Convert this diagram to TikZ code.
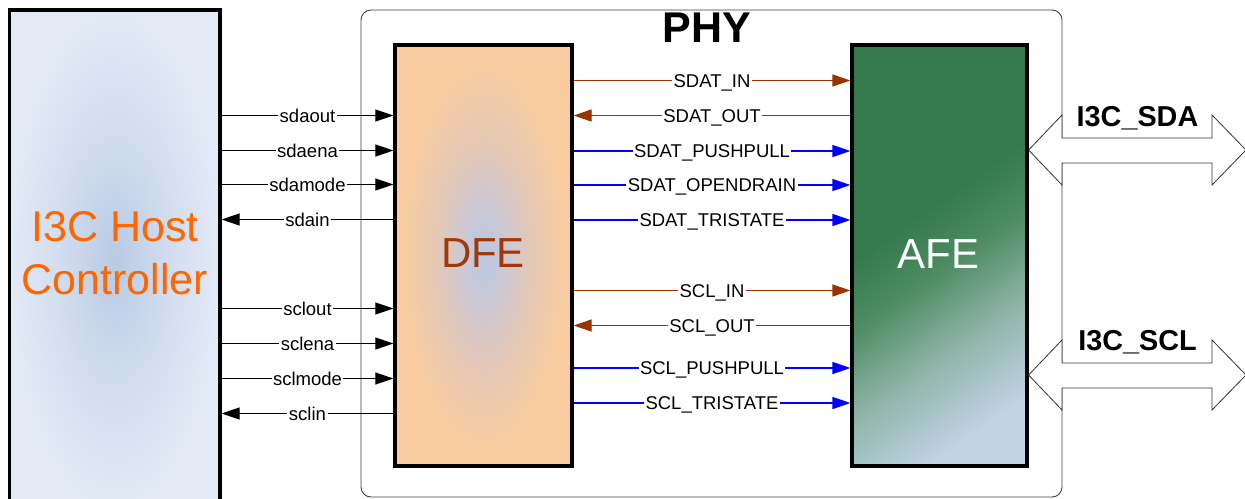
\documentclass[tikz,border=0pt]{standalone}
\usepackage{fontspec}
\setmainfont{Liberation Sans}
\usetikzlibrary{arrows.meta}
\definecolor{hostout}{HTML}{E3EAF5}
\definecolor{hostmid}{HTML}{D0DCEE}
\definecolor{hostin}{HTML}{B8CAE4}
\definecolor{dfeout}{HTML}{F8CCA0}
\definecolor{dfemidb}{HTML}{E6C8B4}
\definecolor{dfemida}{HTML}{CCC8D4}
\definecolor{dfein}{HTML}{B7C8E3}
\definecolor{afedark}{HTML}{357A4C}
\definecolor{afemid}{HTML}{4E8C63}
\definecolor{afepale}{HTML}{8DB3A6}
\definecolor{afelight}{HTML}{C2D3E5}
\definecolor{sigbrown}{HTML}{993300}
\definecolor{sigblue}{HTML}{0000FF}
\definecolor{hostorange}{HTML}{FF6600}
\definecolor{dfetext}{HTML}{A0380A}
\pgfdeclareradialshading{hostshade}{\pgfpoint{0bp}{0bp}}{color(0bp)=(hostin); color(12bp)=(hostmid); color(25bp)=(hostout); color(50bp)=(hostout)}
\pgfdeclareradialshading{dfeshade}{\pgfpoint{0bp}{0bp}}{color(0bp)=(dfein); color(6bp)=(dfemida); color(14bp)=(dfemidb); color(23bp)=(dfeout); color(50bp)=(dfeout)}
\pgfdeclareverticalshading{afeshade}{100bp}{color(0bp)=(afelight); color(24bp)=(afelight); color(37bp)=(afepale); color(48bp)=(afemid); color(57bp)=(afedark); color(100bp)=(afedark)}
\begin{document}
\begin{tikzpicture}[x=1pt,y=-1pt,
  box/.style={draw=black, line width=3.2pt, inner sep=0pt},
  sig/.style={line width=1pt},
  fwd/.style={-{Triangle[length=18pt,width=12pt]}},
  bwd/.style={{Triangle[length=18pt,width=12pt]}-},
  brn/.style={draw=sigbrown, line width=1.2pt},
  blu/.style={draw=sigblue, line width=1.5pt},
  lbl/.style={fill=white, text=black, inner xsep=1.5pt, inner ysep=0pt, text height=13.5pt, text depth=0pt, font=\fontsize{18.5}{20}\selectfont},
  dbl/.style={draw=black!80, fill=white, line width=0.8pt, line join=miter},
  biglbl/.style={font=\bfseries\fontsize{28.8}{32}\selectfont, anchor=base, inner sep=0pt}
]
\useasboundingbox (0,0) rectangle (1245,498);
\clip (0,0) rectangle (1245,498);
\fill[white] (0,0) rectangle (1245,498);

% PHY frame
\node[draw=black!75, line width=0.9pt, rounded corners=10pt, minimum width=701pt, minimum height=487pt, inner sep=0pt] (phy) at (711.5,253.5) {};
\node[font=\bfseries\fontsize{43}{50}\selectfont, inner sep=0pt] (phytxt) at (707,28) {PHY};

% blocks
\node[box, shading=hostshade, minimum width=210.5pt, minimum height=500pt] (host) at (114.75,260) {};
\node[box, shading=dfeshade, minimum width=177pt, minimum height=421pt] (dfe) at (483.5,255.5) {};
\node[box, shading=afeshade, shading angle=35, minimum width=175pt, minimum height=421pt] (afe) at (939.5,255.5) {};

\node[font=\fontsize{43}{53}\selectfont, text=hostorange, align=center, inner sep=0pt] (hosttxt) at (115,253) {I3C Host\\Controller};
\node[font=\fontsize{42}{50}\selectfont, text=dfetext, inner sep=0pt] (dfetxt) at (483,253.5) {DFE};
\node[font=\fontsize{42}{50}\selectfont, text=white, inner sep=0pt] (afetxt) at (938.5,254) {AFE};

% host <-> DFE
\draw[sig, fwd] (host.east |- 0,115.5) -- node[lbl] (l1) {sdaout} (dfe.west |- 0,115.5);
\draw[sig, fwd] (host.east |- 0,150.5) -- node[lbl] (l2) {sdaena} (dfe.west |- 0,150.5);
\draw[sig, fwd] (host.east |- 0,184.5) -- node[lbl] (l3) {sdamode} (dfe.west |- 0,184.5);
\draw[sig, bwd] (host.east |- 0,219.5) -- node[lbl] (l4) {sdain} (dfe.west |- 0,219.5);
\draw[sig, fwd] (host.east |- 0,308.5) -- node[lbl] (l5) {sclout} (dfe.west |- 0,308.5);
\draw[sig, fwd] (host.east |- 0,343.5) -- node[lbl] (l6) {sclena} (dfe.west |- 0,343.5);
\draw[sig, fwd] (host.east |- 0,378.5) -- node[lbl] (l7) {sclmode} (dfe.west |- 0,378.5);
\draw[sig, bwd] (host.east |- 0,413.5) -- node[lbl] (l8) {sclin} (dfe.west |- 0,413.5);

% DFE <-> AFE
\draw[sig, brn, fwd] (dfe.east |- 0,80.5) -- node[lbl] (r1) {SDAT\_IN} (afe.west |- 0,80.5);
\draw[sig, brn, bwd] (dfe.east |- 0,115.5) -- node[lbl] (r2) {SDAT\_OUT} (afe.west |- 0,115.5);
\draw[sig, blu, fwd] (dfe.east |- 0,151) -- node[lbl] (r3) {SDAT\_PUSHPULL} (afe.west |- 0,151);
\draw[sig, blu, fwd] (dfe.east |- 0,185) -- node[lbl] (r4) {SDAT\_OPENDRAIN} (afe.west |- 0,185);
\draw[sig, blu, fwd] (dfe.east |- 0,220) -- node[lbl] (r5) {SDAT\_TRISTATE} (afe.west |- 0,220);
\draw[sig, brn, fwd] (dfe.east |- 0,290.5) -- node[lbl] (r6) {SCL\_IN} (afe.west |- 0,290.5);
\draw[sig, brn, bwd] (dfe.east |- 0,325.5) -- node[lbl] (r7) {SCL\_OUT} (afe.west |- 0,325.5);
\draw[sig, blu, fwd] (dfe.east |- 0,368) -- node[lbl] (r8) {SCL\_PUSHPULL} (afe.west |- 0,368);
\draw[sig, blu, fwd] (dfe.east |- 0,403) -- node[lbl] (r9) {SCL\_TRISTATE} (afe.west |- 0,403);

% bus double arrows
\draw[dbl] (afe.east |- 0,150) -- (1062,115) -- (1062,138) -- (1212,138) -- (1212,115) -- (1246,150) -- (1212,185) -- (1212,163) -- (1062,163) -- (1062,185) -- cycle;
\draw[dbl] (afe.east |- 0,375) -- (1062,340) -- (1062,363) -- (1212,363) -- (1212,340) -- (1246,375) -- (1212,410) -- (1212,388) -- (1062,388) -- (1062,410) -- cycle;
\node[biglbl] (sda) at (1137.5,126) {I3C\_SDA};
\node[biglbl] (scl) at (1137.5,350) {I3C\_SCL};
\end{tikzpicture}
\end{document}
